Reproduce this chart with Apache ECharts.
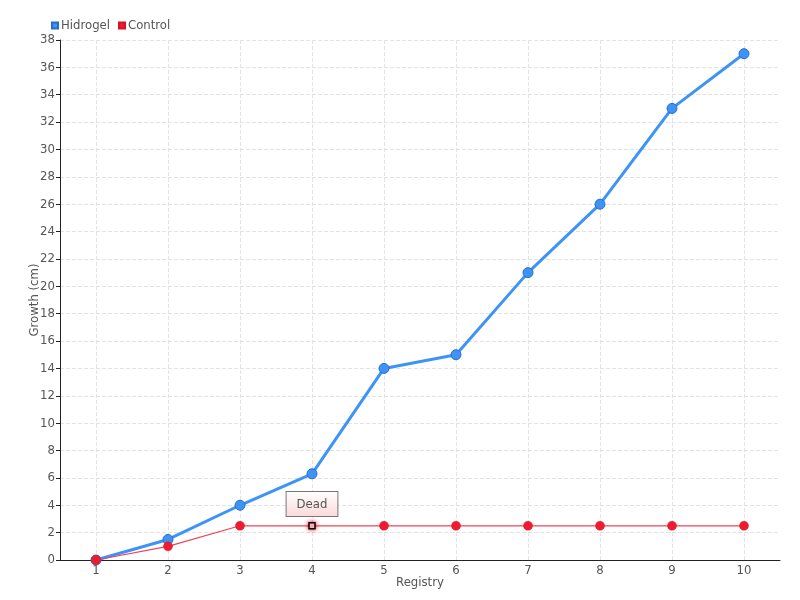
<!DOCTYPE html>
<html>
<head>
<meta charset="utf-8">
<script src="https://cdn.jsdelivr.net/npm/echarts@6/dist/echarts.min.js"></script>
<style>
html, body { margin: 0; padding: 0; background: #fff; }
#chart { width: 800px; height: 600px; }
</style>
</head>
<body>
<div id="chart"></div>
<script>
// 数据
var registry = ['1', '2', '3', '4', '5', '6', '7', '8', '9', '10'];
var hidrogel = [0, 1.5, 4, 6.3, 14, 15, 21, 26, 33, 37];
var control = [0, 1, 2.5, 2.5, 2.5, 2.5, 2.5, 2.5, 2.5, 2.5];
var deadIndex = 3;
var deadLabel = 'Dead';

var fontFam = "'DejaVu Sans Condensed', 'DejaVu Sans', sans-serif";

var controlData = control.map(function (v, i) {
    if (i !== deadIndex) return v;
    return {
        value: v,
        symbol: 'rect',
        symbolSize: 6,
        itemStyle: { color: '#fff', borderColor: '#000', borderWidth: 1.5, shadowColor: '#ee1c2e', shadowBlur: 4 },
        label: {
            show: true,
            position: 'top',
            distance: 6,
            formatter: deadLabel,
            color: '#555',
            fontSize: 13,
            fontFamily: fontFam,
            padding: [6, 10, 5, 10],
            borderColor: '#777',
            borderWidth: 1,
            backgroundColor: {
                type: 'linear', x: 0, y: 0, x2: 0, y2: 1,
                colorStops: [{ offset: 0, color: '#ffffff' }, { offset: 1, color: '#fbd9d9' }]
            }
        }
    };
});

var chart = echarts.init(document.getElementById('chart'));
var option = {
    animation: false,
    textStyle: { fontFamily: fontFam },
    legend: {
        data: ['Hidrogel', 'Control'],
        left: 46,
        top: 14,
        itemWidth: 6,
        itemHeight: 6,
        itemGap: 8,
        icon: 'rect',
        textStyle: { color: '#555', fontSize: 13, fontFamily: fontFam, padding: [0, 0, 0, -2] }
    },
    grid: {
        left: 60,
        right: 20,
        top: 40,
        bottom: 40,
        outerBoundsMode: 'none'
    },
    xAxis: {
        type: 'category',
        data: registry,
        name: 'Registry',
        nameLocation: 'middle',
        nameGap: 16,
        nameMoveOverlap: false,
        nameTextStyle: { color: '#555', fontSize: 13 },
        axisLine: { lineStyle: { color: '#222' } },
        axisTick: { alignWithLabel: true, length: 4, lineStyle: { color: '#222' } },
        axisLabel: { color: '#555', fontSize: 13, margin: 4 },
        splitLine: {
            show: true,
            alignWithLabel: true,
            lineStyle: { type: 'dashed', color: '#e3e3e3' }
        }
    },
    yAxis: {
        type: 'value',
        min: 0,
        max: 38,
        interval: 2,
        name: 'Growth (cm)',
        nameLocation: 'middle',
        nameGap: 19,
        nameMoveOverlap: false,
        nameTextStyle: { color: '#555', fontSize: 13 },
        axisLine: { show: true, lineStyle: { color: '#222' } },
        axisTick: { show: true, length: 4, lineStyle: { color: '#222' } },
        axisLabel: { color: '#555', fontSize: 13, margin: 5 },
        splitLine: { lineStyle: { type: 'dashed', color: '#e3e3e3' } }
    },
    series: [
        {
            name: 'Hidrogel',
            type: 'line',
            data: hidrogel,
            symbol: 'circle',
            symbolSize: 10,
            color: '#3d94f6',
            lineStyle: { color: '#3d94f6', width: 3 },
            itemStyle: { color: '#3d94f6', borderColor: '#2b6cc4', borderWidth: 1 },
            z: 2
        },
        {
            name: 'Control',
            type: 'line',
            data: controlData,
            symbol: 'circle',
            symbolSize: 9,
            color: '#ee1c2e',
            lineStyle: { color: '#f04455', width: 1.2 },
            itemStyle: { color: '#ee1c2e', borderColor: '#d41424', borderWidth: 0.5 },
            z: 3
        }
    ]
};
chart.setOption(option);
</script>
</body>
</html>
